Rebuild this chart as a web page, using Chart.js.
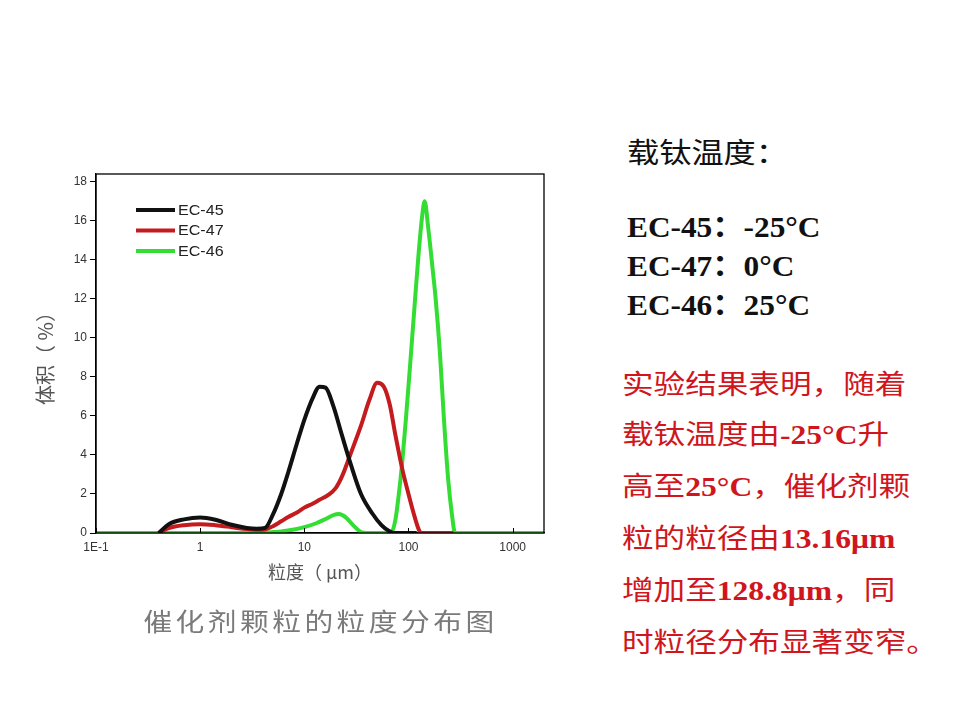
<!DOCTYPE html>
<html>
<head>
<meta charset="utf-8">
<script src="https://cdn.jsdelivr.net/npm/chart.js@4.4.1/dist/chart.umd.min.js"></script>
<style>
  body { margin: 0; background: #fff; width: 960px; height: 720px; overflow: hidden; position: relative; font-family: "Noto Sans CJK SC", sans-serif; }
  #chartBox { position: absolute; left: 0; top: 0; width: 600px; height: 620px; }
  .txt { position: absolute; white-space: nowrap; transform-origin: left center; transform: scaleX(1.15); }
  .num { font-family: "Liberation Serif", "Noto Sans CJK SC", serif; font-weight: bold; }
  #head { left: 627px; top: 131px; font-size: 28px; line-height: 40px; color: #111; }
  #temps { left: 627px; top: 208px; font-size: 29px; line-height: 39px; color: #111; transform: scaleX(1.08); }
  #note { left: 622px; top: 358px; font-size: 27px; line-height: 50px; color: #d0161c; transform: scaleX(1.17); }
  #caption { left: 143px; width: 355px; top: 600px; font-size: 25px; line-height: 40px; color: #7a7a7a; letter-spacing: 3px; text-align: center; transform-origin: center center; }
</style>
</head>
<body>
<div id="chartBox"><canvas id="psd" width="600" height="620"></canvas></div>

<div class="txt" id="head">载钛温度：</div>
<div class="txt num" id="temps">EC-45：-25°C<br>EC-47：0°C<br>EC-46：25°C</div>
<div class="txt" id="note">
  实验结果表明，随着<br>
  载钛温度由<span class="num">-25°C</span>升<br>
  高至<span class="num">25°C</span>，催化剂颗<br>
  粒的粒径由<span class="num">13.16μm</span><br>
  增加至<span class="num">128.8μm</span>，同<br>
  时粒径分布显著变窄。
</div>
<div class="txt" id="caption">催化剂颗粒的粒度分布图</div>

<script>
// series names (legend order)
const seriesNames = ['EC-45', 'EC-47', 'EC-46'];

// particle size (um) / volume (%)
const ec45X = [0.4, 0.5, 0.7, 1, 1.4, 2, 2.8, 3.5, 4.2, 5, 6, 7, 8.5, 10, 12, 14, 16, 19, 23, 28, 35, 45, 55, 65, 72, 120];
const ec45Y = [0, 0.45, 0.7, 0.8, 0.68, 0.42, 0.26, 0.22, 0.26, 0.95, 2.0, 3.1, 4.6, 5.8, 6.9, 7.5, 7.45, 6.5, 5.0, 3.5, 2.0, 1.0, 0.4, 0.1, 0, 0];

const ec47X = [0.4, 0.5, 0.7, 1, 1.4, 2, 2.8, 3.5, 4.2, 5, 6, 7, 8.5, 10, 12, 14, 17, 20, 23, 28, 35, 42, 50, 58, 66, 75, 87, 100, 115, 125, 132, 270];
const ec47Y = [0, 0.25, 0.4, 0.45, 0.4, 0.3, 0.2, 0.17, 0.18, 0.35, 0.6, 0.82, 1.05, 1.3, 1.5, 1.7, 1.95, 2.3, 2.9, 4.1, 5.5, 6.8, 7.7, 7.5, 6.6, 5.0, 3.3, 2.0, 0.8, 0.2, 0, 0];

const ec46X = [0.1, 3.5, 5, 6, 8, 10, 13, 16, 19, 21.5, 25, 30, 35, 40, 68, 75, 80, 87, 95, 105, 115, 125, 135, 143, 155, 170, 181, 200, 218, 240, 262, 280, 2000];
const ec46Y = [0, 0, 0.05, 0.08, 0.18, 0.3, 0.5, 0.72, 0.92, 0.97, 0.8, 0.35, 0.05, 0, 0, 0.7, 1.8, 3.6, 6.0, 9.0, 11.8, 14.3, 16.2, 17.0, 15.6, 13.6, 12.2, 9.3, 6.0, 2.8, 0.9, 0, 0];

// axis ticks
const xTickValues = [0.1, 1, 10, 100, 1000];
const xTickLabels = ['1E-1', '1', '10', '100', '1000'];
const yTickValues = [0, 2, 4, 6, 8, 10, 12, 14, 16, 18];

function toPoints(xs, ys) {
    return xs.map((x, i) => ({ x: x, y: ys[i] }));
}

// frame round the plot, with x ticks pointing inward
const framePlugin = {
    id: 'frame',
    afterDraw(chart) {
        const { ctx, chartArea: a, scales } = chart;
        ctx.save();
        ctx.strokeStyle = '#000';
        ctx.lineWidth = 1.3;
        ctx.strokeRect(a.left, a.top, a.right - a.left, a.bottom - a.top);
        ctx.lineWidth = 1;
        scales.x.ticks.forEach(t => {
            const px = Math.round(scales.x.getPixelForValue(t.value)) + 0.5;
            ctx.beginPath();
            ctx.moveTo(px, a.bottom);
            ctx.lineTo(px, a.bottom - 5);
            ctx.stroke();
        });
        ctx.restore();
    }
};

// legend sitting inside the plot, top left
const insideLegend = {
    id: 'insideLegend',
    afterDraw(chart) {
        const { ctx, chartArea: a } = chart;
        ctx.save();
        chart.data.datasets.forEach((ds, i) => {
            const y = a.top + 36 + i * 20.5;
            ctx.strokeStyle = ds.borderColor;
            ctx.lineWidth = 4;
            ctx.beginPath();
            ctx.moveTo(a.left + 40, y);
            ctx.lineTo(a.left + 79, y);
            ctx.stroke();
            ctx.save();
            ctx.translate(a.left + 82, y);
            ctx.scale(1.15, 1);
            ctx.fillStyle = '#222';
            ctx.font = '14px "Liberation Sans", Arial, sans-serif';
            ctx.textBaseline = 'middle';
            ctx.fillText(ds.label, 0, 1);
            ctx.restore();
        });
        ctx.restore();
    }
};

const lineStyle = { borderWidth: 4, pointRadius: 0, cubicInterpolationMode: 'monotone', fill: false };

new Chart(document.getElementById('psd').getContext('2d'), {
    type: 'line',
    data: {
        datasets: [
            Object.assign({ label: seriesNames[0], data: toPoints(ec45X, ec45Y), borderColor: '#111111' }, lineStyle),
            Object.assign({ label: seriesNames[1], data: toPoints(ec47X, ec47Y), borderColor: '#c41b1f' }, lineStyle),
            Object.assign({ label: seriesNames[2], data: toPoints(ec46X, ec46Y), borderColor: '#33dd33' }, lineStyle)
        ]
    },
    options: {
        responsive: false,
        animation: false,
        devicePixelRatio: 1,
        layout: { padding: { left: 30, right: 56, top: 174, bottom: 27 } },
        plugins: { legend: { display: false }, tooltip: { enabled: false } },
        scales: {
            x: {
                type: 'logarithmic',
                min: 0.1,
                max: 2000,
                afterBuildTicks: s => { s.ticks = xTickValues.map(v => ({ value: v })); },
                afterFit: s => { s.height = 60; },
                ticks: {
                    autoSkip: false,
                    maxRotation: 0,
                    padding: 7,
                    color: '#333',
                    font: { family: '"Liberation Sans", Arial, sans-serif', size: 12 },
                    callback: (v, i) => xTickLabels[i]
                },
                grid: { drawOnChartArea: false, drawTicks: false },
                border: { color: '#000', width: 1.3 },
                title: {
                    display: true,
                    text: '粒度（ μm）',
                    color: '#555',
                    font: { family: '"Noto Sans CJK SC", sans-serif', size: 18, weight: 'normal' },
                    padding: { top: 0, bottom: 10 }
                }
            },
            y: {
                min: 0,
                max: 18.4,
                afterBuildTicks: s => { s.ticks = yTickValues.map(v => ({ value: v })); },
                afterFit: s => { s.width = 66; },
                ticks: {
                    padding: 3,
                    color: '#333',
                    font: { family: '"Liberation Sans", Arial, sans-serif', size: 12 }
                },
                grid: { drawOnChartArea: false, drawTicks: true, tickLength: 6, color: '#000' },
                border: { color: '#000', width: 1.3 },
                title: {
                    display: true,
                    text: '体积（ %）',
                    color: '#555',
                    font: { family: '"Noto Sans CJK SC", sans-serif', size: 20, weight: 'normal' },
                    padding: { top: 3, bottom: 0 }
                }
            }
        }
    },
    plugins: [framePlugin, insideLegend]
});
</script>
</body>
</html>
